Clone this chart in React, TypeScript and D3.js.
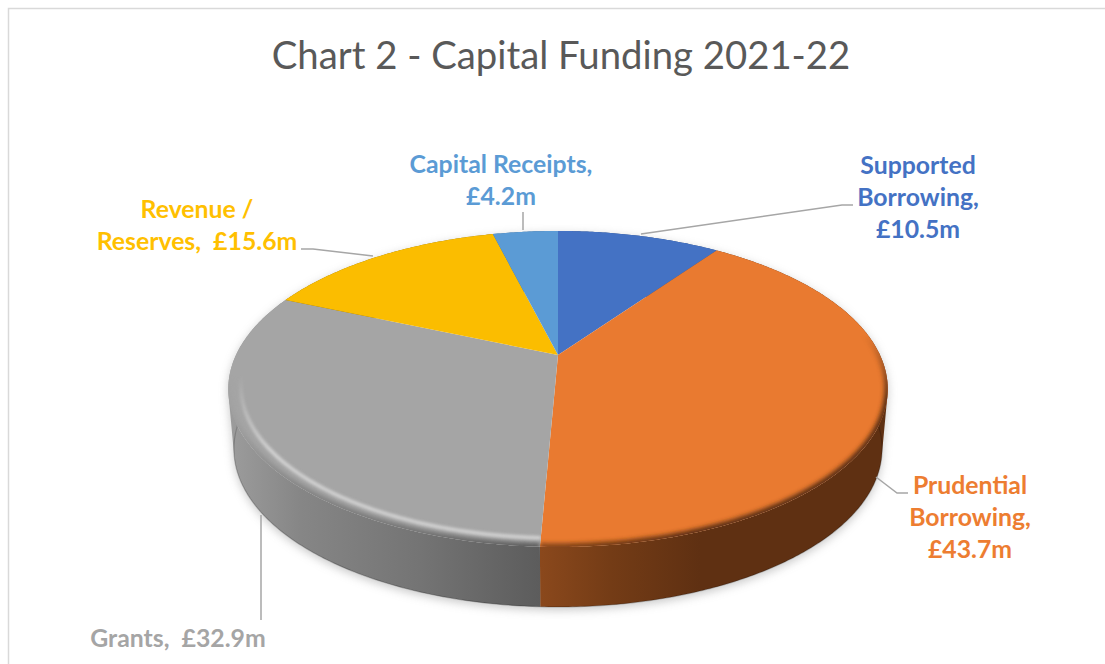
import React from "react";
import * as d3 from "d3";

const categories = ["Supported Borrowing", "Prudential Borrowing", "Grants", "Revenue / Reserves", "Capital Receipts"];
const values = [10.5, 43.7, 32.9, 15.6, 4.2];
const faceColors = ["#4472c4", "#e97a30", "#a5a5a5", "#fbbd00", "#5b9bd5"];
const labelColors = ["#4472c4", "#ed7d31", "#a5a5a5", "#ffc000", "#5b9bd5"];
const labelLines = [
  ["Supported", "Borrowing,", "£10.5m"],
  ["Prudential", "Borrowing,", "£43.7m"],
  ["Grants,  £32.9m"],
  ["Revenue /", "Reserves,  £15.6m"],
  ["Capital Receipts,", "£4.2m"],
];
const title = "Chart 2 - Capital Funding 2021-22";

// layout of the labels, these were placed by hand in the original too
const labelPos = [
  { x: 918, y: 174 },
  { x: 970, y: 494 },
  { x: 178, y: 647 },
  { x: 197, y: 218 },
  { x: 501, y: 173 },
];
const leaders: [number, number][][] = [
  [[641, 234], [842, 205], [853, 205]],
  [[876, 477], [897, 493], [908, 493]],
  [[261, 515], [261, 620]],
  [[301, 249], [313, 249], [373, 256]],
  [[523, 212], [523, 230]],
];
// side wall gradient, left to right in page px
const sideStops: [number, string][][] = [
  [[0, "#2a4a80"], [1, "#2a4a80"]],
  [[541, "#8a481c"], [610, "#743c16"], [700, "#5f3012"], [890, "#5f3012"]],
  [[230, "#9c9c9c"], [300, "#868686"], [420, "#747474"], [541, "#5c5c5c"]],
  [[0, "#8a6a00"], [1, "#8a6a00"]],
  [[0, "#3a6a96"], [1, "#3a6a96"]],
];
// y range over which the bevel fades in towards the front of the disc
const bevelFade: [number, number][] = [
  [0, 1],
  [335, 400],
  [375, 450],
  [375, 450],
  [0, 1],
];

const width = 1105;
const height = 664;
const cx = 558;
const cy = 355;
const rx = 322;
const ry = 150.7;
const persp = 0.215; // perspective of the tilted disc
const depth = 60;
const bottomScale = 0.983;

// angle clockwise from 12 o'clock, r as fraction of the radius
const project = (a: number, r = 1): [number, number] => {
  const u = Math.sin(a) * r;
  const v = -Math.cos(a) * r;
  const s = 1 / (1 - persp * v);
  return [cx + rx * u * s, cy + ry * v * s];
};
const projectBottom = (a: number): [number, number] => {
  const [x, y] = project(a);
  return [cx + (x - cx) * bottomScale, y + depth];
};

const arcAngles = (a0: number, a1: number) => {
  const n = Math.max(2, Math.ceil((a1 - a0) / 0.01));
  return d3.range(n + 1).map((i) => a0 + ((a1 - a0) * i) / n);
};

const line = d3.line<[number, number]>();
const pie = d3.pie<number>().sort(null).value((d) => d);
const slices = pie(values);
const TAU = Math.PI * 2;

const facePath = (a0: number, a1: number) =>
  line([[cx, cy], ...arcAngles(a0, a1).map((a) => project(a))]) + "Z";

// wall is a run of small quads, all wound the same way so the fold at the
// left and right extremes of the disc stays filled
const sidePath = (a0: number, a1: number) => {
  const as = arcAngles(a0, a1);
  return d3
    .pairs(as)
    .map(([p, q]) => {
      const quad = [project(p), project(q), projectBottom(q), projectBottom(p)];
      if (d3.polygonArea(quad) < 0) quad.reverse();
      return line(quad) + "Z";
    })
    .join("");
};

const shadowPath = sidePath(0, TAU);

// rims only show on the front of the disc
const rimFrom = (50 * Math.PI) / 180;
const rimTo = (300 * Math.PI) / 180;

export default function App() {
  const font = "Lato, Carlito, 'Open Sans', sans-serif";
  return (
    <svg
      width={width}
      height={height}
      viewBox={`0 0 ${width} ${height}`}
      style={{ position: "absolute", left: 0, top: 0, background: "#fff" }}
    >
      <defs>
        <filter id="shadowBlur" x="-10%" y="-10%" width="120%" height="120%">
          <feGaussianBlur stdDeviation="5" />
        </filter>
        <filter id="rimBlur" x="-10%" y="-10%" width="120%" height="120%">
          <feGaussianBlur stdDeviation="1.6" />
        </filter>
        <filter id="edgeBlur" x="-10%" y="-10%" width="120%" height="120%">
          <feGaussianBlur stdDeviation="2.2" />
        </filter>
        {slices.map((s, i) => (
          <clipPath id={`face-${i}`} key={i}>
            <path d={facePath(s.startAngle, s.endAngle)} />
          </clipPath>
        ))}
        {categories.map((c, i) => {
          const stops = sideStops[i];
          const x0 = stops[0][0];
          const x1 = stops[stops.length - 1][0];
          return (
            <linearGradient id={`side-${i}`} key={c} gradientUnits="userSpaceOnUse" x1={x0} x2={x1} y1={0} y2={0}>
              {stops.map(([x, col]) => (
                <stop key={x} offset={(x - x0) / (x1 - x0)} stopColor={col} />
              ))}
            </linearGradient>
          );
        })}
        {bevelFade.map(([y0, y1], i) => (
          <linearGradient id={`fade-${i}`} key={i} gradientUnits="userSpaceOnUse" x1={0} x2={0} y1={y0} y2={y1}>
            <stop offset={0} stopColor="#000" />
            <stop offset={1} stopColor="#fff" />
          </linearGradient>
        ))}
        {bevelFade.map((_, i) => (
          <mask id={`bevel-${i}`} key={i} maskUnits="userSpaceOnUse" x={0} y={0} width={width} height={height}>
            <rect width={width} height={height} fill={`url(#fade-${i})`} />
          </mask>
        ))}
      </defs>

      {/* chart frame */}
      <path d={`M8.5,${height}V8.5H${width}`} fill="none" stroke="#d9d9d9" strokeWidth={1.5} />

      <text x={561} y={69} textAnchor="middle" fontFamily={font} fontSize={38.3} fill="#595959">
        {title}
      </text>

      <path d={shadowPath} fill="#b5b5b5" opacity={0.75} filter="url(#shadowBlur)" transform="translate(0,3)" />

      {slices.map((s, i) => (
        <path key={i} d={sidePath(s.startAngle, s.endAngle)} fill={`url(#side-${i})`} />
      ))}
      {/* thin dark line at the foot of the wall */}
      {slices.map((s, i) => {
        const a0 = Math.max(s.startAngle, rimFrom);
        const a1 = Math.min(s.endAngle, rimTo);
        if (a1 <= a0) return null;
        return (
          <path
            key={i}
            d={line(arcAngles(a0, a1).map(projectBottom)) as string}
            fill="none"
            stroke="#000"
            strokeOpacity={0.22}
            strokeWidth={1.2}
            mask={`url(#bevel-${i})`}
          />
        );
      })}

      {slices.map((s, i) => (
        <path key={i} d={facePath(s.startAngle, s.endAngle)} fill={faceColors[i]} />
      ))}

      {/* bevel round the front of the top face */}
      {slices.map((s, i) => {
        const a0 = Math.max(s.startAngle, rimFrom);
        const a1 = Math.min(s.endAngle, rimTo);
        if (a1 <= a0 || i === 3) return null;
        const as = arcAngles(a0, a1);
        return (
          <g key={i} clipPath={`url(#face-${i})`}>
            <g mask={`url(#bevel-${i})`}>
              <path
                d={line(as.map((a) => project(a, 1.003))) as string}
                fill="none"
                stroke={`url(#side-${i})`}
                strokeWidth={9}
                filter="url(#edgeBlur)"
              />
              {i === 2 && (
                <path
                  d={line(as.map((a) => project(a, 0.963))) as string}
                  fill="none"
                  stroke="#d4d4d4"
                  strokeWidth={3.5}
                  filter="url(#rimBlur)"
                />
              )}
            </g>
          </g>
        );
      })}

      {leaders.map((pts, i) => (
        <path key={i} d={line(pts) as string} fill="none" stroke="#a6a6a6" strokeWidth={1.5} />
      ))}

      {labelLines.map((lines, i) => (
        <text
          key={i}
          x={labelPos[i].x}
          y={labelPos[i].y}
          textAnchor="middle"
          fontFamily={font}
          fontWeight={700}
          fontSize={24.8}
          fill={labelColors[i]}
          style={{ whiteSpace: "pre" }}
        >
          {lines.map((l, j) => (
            <tspan key={j} x={labelPos[i].x} dy={j === 0 ? 0 : 32}>
              {l}
            </tspan>
          ))}
        </text>
      ))}
    </svg>
  );
}
